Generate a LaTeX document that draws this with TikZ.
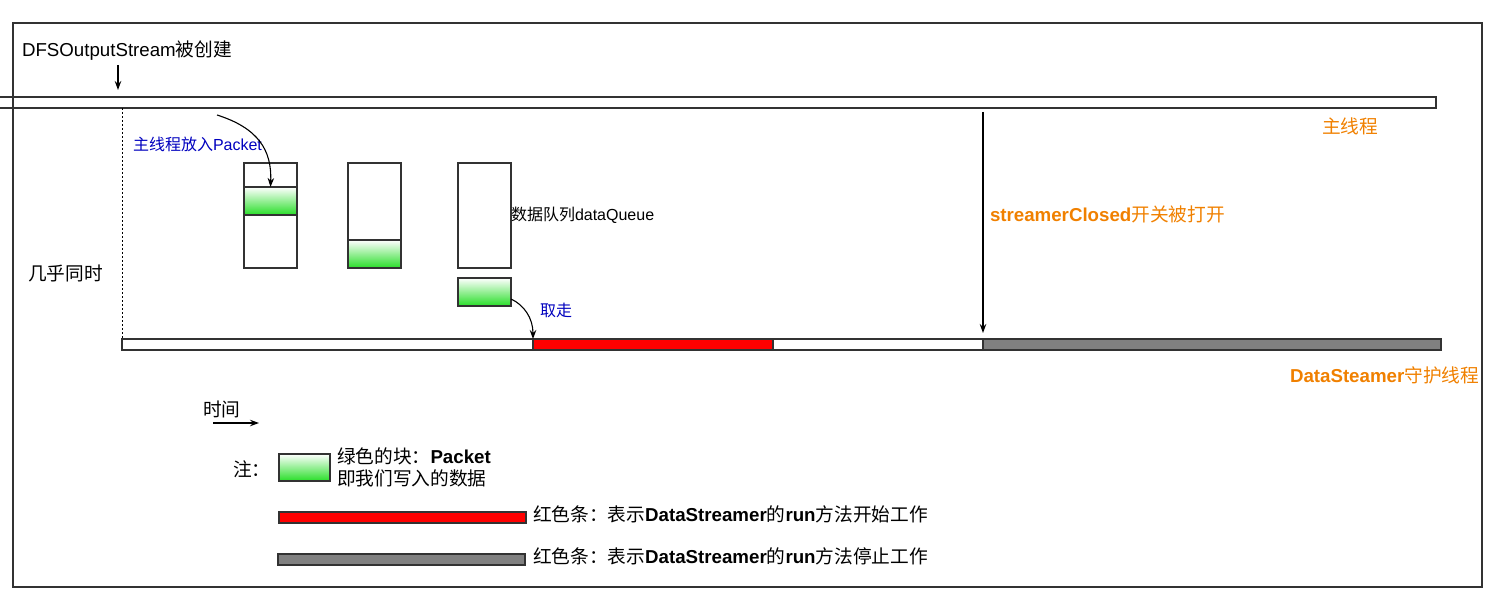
\documentclass[tikz,border=0pt]{standalone}
\usepackage{fontspec}
\setmainfont{Liberation Sans}
\newfontfamily\cjk{Noto Sans CJK SC}
\newcommand\zh[1]{{\cjk #1}}
\usetikzlibrary{arrows.meta}
\definecolor{pgreen}{RGB}{40,222,40}
\definecolor{porange}{RGB}{240,128,0}
\definecolor{pblue}{RGB}{0,0,190}
\definecolor{pgray}{RGB}{128,128,128}
\definecolor{pline}{RGB}{50,50,50}
\tikzset{
  lbl/.style={anchor=base west,inner sep=0pt,outer sep=0pt,font=\fontsize{18.7}{20}\selectfont},
  sml/.style={anchor=base west,inner sep=0pt,outer sep=0pt,font=\fontsize{16}{18}\selectfont},
  barbox/.style={draw=pline,line width=1.2pt,inner sep=0pt,outer sep=0pt,anchor=north west},
  qbox/.style={draw=pline,line width=1.2pt,fill=white,inner sep=0pt,outer sep=0pt,minimum width=53pt,anchor=north west},
  pkt/.style={draw=pline,line width=1.2pt,top color=white,bottom color=pgreen,inner sep=0pt,outer sep=0pt,minimum width=53pt,minimum height=28pt,anchor=north west},
  arr/.style={-{Stealth[length=9pt,width=6.5pt]},line width=1.1pt,black},
}
\begin{document}
\begin{tikzpicture}[x=1pt,y=-1pt]
\useasboundingbox (0,0) rectangle (1494,596);
% frame
\draw[pline,line width=1.3pt] (13,23) rectangle (1482,587);
% main thread bar
\node[barbox,minimum width=1441pt,minimum height=11pt] (mainbar) at (-5,97) {};
% DataStreamer bar pieces
\node[barbox,minimum width=411pt,minimum height=11pt] (dsbar) at (122,339) {};
\node[barbox,fill=red,minimum width=240pt,minimum height=11pt] (redbar) at (533,339) {};
\node[barbox,minimum width=210pt,minimum height=11pt] (midbar) at (773,339) {};
\node[barbox,fill=pgray,minimum width=458pt,minimum height=11pt] (graybar) at (983,339) {};
% dotted line
\draw[black,line width=1pt,dash pattern=on 2pt off 2pt] (122,108) -- (dsbar.north west);
% texts
\node[lbl] (dfs) at (22,57) {DFSOutputStream\zh{被创建}};
\coordinate (dfsa) at (118,65);
\coordinate (dfsb) at (118,90);
\draw[arr] (dfsa) -- (dfsb);
\node[sml,text=pblue] (put) at (133,151) {\zh{主线程放入}Packet};
\node[lbl,text=porange] (mainlbl) at (1322,134) {\zh{主线程}};
\node[lbl] (almost) at (28,280) {\zh{几乎同时}};
% queue boxes
\node[qbox,minimum height=105pt] (q1) at (244,163) {};
\node[pkt] (p1) at (244,187) {};
\node[qbox,minimum height=105pt] (q2) at (348,163) {};
\node[pkt] (p2) at (348,240) {};
\node[qbox,minimum height=105pt] (q3) at (458,163) {};
\node[pkt] (p3) at (458,278) {};
\node[sml] (dq) at (511,221) {\zh{数据队列}dataQueue};
\node[sml,text=pblue] (take) at (540,316) {\zh{取走}};
% curved arrows
\coordinate (c1s) at (217,115);
\draw[arr] (c1s) .. controls (258,128) and (272,150) .. (p1.north);
\draw[arr] ([yshift=-7pt]p3.east) .. controls (524,305) and (533,318) .. (redbar.north west);
% streamerClosed
\node[lbl,text=porange] (sc) at (990,222) {\textbf{streamerClosed}\zh{开关被打开}};
\coordinate (sca) at (983,112);
\draw[arr,shorten >=6pt] (sca) -- (graybar.north west);
\node[lbl,text=porange] (dslbl) at (1290,382) {\textbf{DataSteamer}\zh{守护线程}};
% legend
\node[lbl] (time) at (203,416) {\zh{时间}};
\coordinate (ta) at (213,423);
\coordinate (tb) at (259,423);
\draw[arr] (ta) -- (tb);
\node[lbl] (note) at (233,476) {\zh{注：}};
\node[pkt,minimum width=51pt,minimum height=27pt] (lg) at (279,454) {};
\node[lbl] (lgt1) at (337,463) {\zh{绿色的块：}\textbf{Packet}};
\node[lbl] (lgt2) at (337,485) {\zh{即我们写入的数据}};
\node[barbox,fill=red,minimum width=247pt,minimum height=11pt] (lr) at (279,512) {};
\node[lbl] (lrt) at (533,521) {\zh{红色条：表示}\textbf{DataStreamer}\zh{的}\textbf{run}\zh{方法开始工作}};
\node[barbox,fill=pgray,minimum width=247pt,minimum height=11pt] (lgr) at (278,554) {};
\node[lbl] (lgrt) at (533,563) {\zh{红色条：表示}\textbf{DataStreamer}\zh{的}\textbf{run}\zh{方法停止工作}};
\end{tikzpicture}
\end{document}
